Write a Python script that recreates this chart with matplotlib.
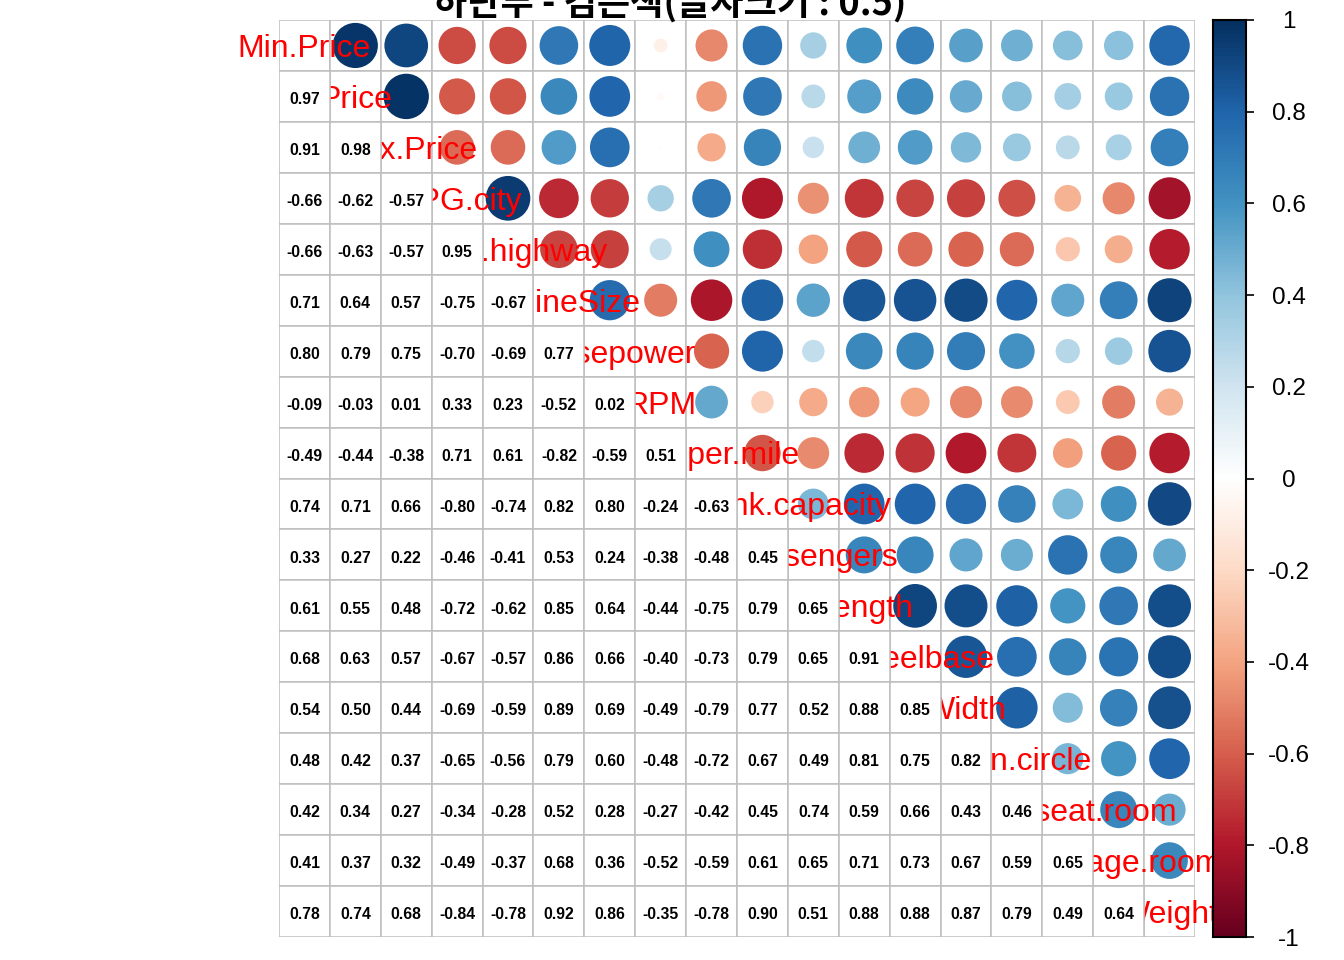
import matplotlib
matplotlib.use("Agg")
import matplotlib.pyplot as plt
import numpy as np
from matplotlib.colors import LinearSegmentedColormap
from matplotlib.patches import Circle, Rectangle

variables = ["Min.Price", "Price", "Max.Price", "MPG.city", "MPG.highway",
             "EngineSize", "Horsepower", "RPM", "Rev.per.mile",
             "Fuel.tank.capacity", "Passengers", "Length", "Wheelbase",
             "Width", "Turn.circle", "Rear.seat.room", "Luggage.room", "Weight"]

# lower-triangle correlations (row i, columns 0..i-1)
lower = [
    [],
    [0.97],
    [0.91, 0.98],
    [-0.66, -0.62, -0.57],
    [-0.66, -0.63, -0.57, 0.95],
    [0.71, 0.64, 0.57, -0.75, -0.67],
    [0.80, 0.79, 0.75, -0.70, -0.69, 0.77],
    [-0.09, -0.03, 0.01, 0.33, 0.23, -0.52, 0.02],
    [-0.49, -0.44, -0.38, 0.71, 0.61, -0.82, -0.59, 0.51],
    [0.74, 0.71, 0.66, -0.80, -0.74, 0.82, 0.80, -0.24, -0.63],
    [0.33, 0.27, 0.22, -0.46, -0.41, 0.53, 0.24, -0.38, -0.48, 0.45],
    [0.61, 0.55, 0.48, -0.72, -0.62, 0.85, 0.64, -0.44, -0.75, 0.79, 0.65],
    [0.68, 0.63, 0.57, -0.67, -0.57, 0.86, 0.66, -0.40, -0.73, 0.79, 0.65, 0.91],
    [0.54, 0.50, 0.44, -0.69, -0.59, 0.89, 0.69, -0.49, -0.79, 0.77, 0.52, 0.88, 0.85],
    [0.48, 0.42, 0.37, -0.65, -0.56, 0.79, 0.60, -0.48, -0.72, 0.67, 0.49, 0.81, 0.75, 0.82],
    [0.42, 0.34, 0.27, -0.34, -0.28, 0.52, 0.28, -0.27, -0.42, 0.45, 0.74, 0.59, 0.66, 0.43, 0.46],
    [0.41, 0.37, 0.32, -0.49, -0.37, 0.68, 0.36, -0.52, -0.59, 0.61, 0.65, 0.71, 0.73, 0.67, 0.59, 0.65],
    [0.78, 0.74, 0.68, -0.84, -0.78, 0.92, 0.86, -0.35, -0.78, 0.90, 0.51, 0.88, 0.88, 0.87, 0.79, 0.49, 0.64],
]

cbar_ticks = [1, 0.8, 0.6, 0.4, 0.2, 0, -0.2, -0.4, -0.6, -0.8, -1]
title = "하단부 - 검은색(글자크기 : 0.5)"

n = len(variables)
corr = np.eye(n)
for i, row in enumerate(lower):
    for j, v in enumerate(row):
        corr[i, j] = v
        corr[j, i] = v

cols = ["#67001F", "#B2182B", "#D6604D", "#F4A582", "#FDDBC7", "#FFFFFF",
        "#D1E5F0", "#92C5DE", "#4393C3", "#2166AC", "#053061"]
cmap = LinearSegmentedColormap.from_list("rdbu", cols, N=200)

W, H = 1344, 960
fig = plt.figure(figsize=(W / 100, H / 100), dpi=100)

left, right, top, bottom = 279, 1195, 20, 937
ax = fig.add_axes([left / W, (H - bottom) / H, (right - left) / W, (bottom - top) / H])
ax.set_xlim(0.5, n + 0.5)
ax.set_ylim(n + 0.5, 0.5)
ax.axis("off")

grid_col = "#BEBEBE"
lw = 1.1
# upper cells (incl. diagonal) background
for i in range(n):
    for j in range(i, n):
        ax.add_patch(Rectangle((j + 0.5, i + 0.5), 1, 1, facecolor="white",
                               edgecolor=grid_col, linewidth=lw, zorder=1))
# circles
for i in range(n):
    for j in range(i + 1, n):
        r = corr[i, j]
        ax.add_patch(Circle((j + 1, i + 1), 0.45 * np.sqrt(abs(r)),
                            facecolor=cmap((r + 1) / 2), edgecolor="none", zorder=2))
# diagonal labels
for i, name in enumerate(variables):
    ax.text(i + 1, i + 1 + 0.225, name, color="red", fontsize=23, ha="center",
            va="baseline", family="Liberation Sans", zorder=3, clip_on=False)
# lower cells with numbers
for i in range(n):
    for j in range(i):
        ax.add_patch(Rectangle((j + 0.5, i + 0.5), 1, 1, facecolor="white",
                               edgecolor=grid_col, linewidth=lw, zorder=4))
        ax.text(j + 1, i + 1 + 0.15, f"{corr[i, j]:.2f}", color="black", fontsize=11.3,
                fontweight="bold", ha="center", va="baseline",
                family="Liberation Sans", zorder=5)

# colorbar
cax = fig.add_axes([1213 / W, (H - 937) / H, 33 / W, (937 - 20) / H])
grad = np.linspace(1, -1, 400).reshape(-1, 1)
cax.imshow(grad, cmap=cmap, vmin=-1, vmax=1, aspect="auto", extent=[0, 1, -1, 1])
cax.set_xticks([])
cax.yaxis.tick_right()
cax.set_yticks(cbar_ticks)
cax.set_yticklabels([f"{t:g}" for t in cbar_ticks], fontsize=17.5, family="Liberation Sans")
cax.tick_params(axis="y", length=6, width=1.2, pad=25)
for lab in cax.get_yticklabels():
    lab.set_horizontalalignment("center")
for s in cax.spines.values():
    s.set_linewidth(1.5)

fig.text(670 / W, 1 - 15 / H, title, ha="center", va="baseline", fontsize=26,
         fontweight="bold", family=["Noto Sans CJK KR", "DejaVu Sans"])

fig.savefig("out.png", dpi=100)
